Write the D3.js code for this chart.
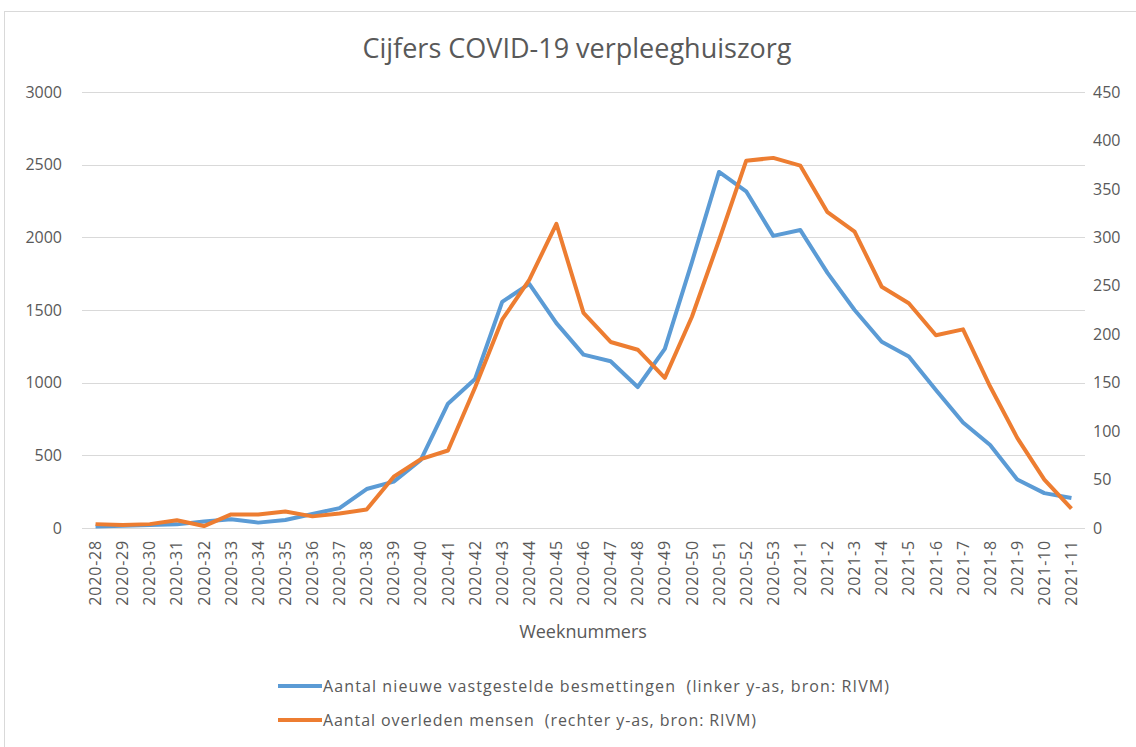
<!DOCTYPE html>
<html lang="nl">
<head>
    <meta charset="UTF-8">
    <script src="https://d3js.org/d3.v7.min.js"></script>
    <style>
        body { margin: 0; background: #fff; }
        text { font-family: "Open Sans", sans-serif; fill: #595959; }
    </style>
</head>
<body>
    <div id="chart"></div>

    <script>
        var weeks = ["2020-28", "2020-29", "2020-30", "2020-31", "2020-32", "2020-33", "2020-34", "2020-35",
            "2020-36", "2020-37", "2020-38", "2020-39", "2020-40", "2020-41", "2020-42", "2020-43", "2020-44",
            "2020-45", "2020-46", "2020-47", "2020-48", "2020-49", "2020-50", "2020-51", "2020-52", "2020-53",
            "2021-1", "2021-2", "2021-3", "2021-4", "2021-5", "2021-6", "2021-7", "2021-8", "2021-9", "2021-10", "2021-11"];

        // nieuwe vastgestelde besmettingen (linker y-as)
        var besmettingen = [10, 15, 20, 25, 45, 60, 37, 55, 96, 137, 268, 319, 468, 855, 1025, 1556, 1680,
            1410, 1193, 1147, 970, 1232, 1830, 2450, 2317, 2010, 2050, 1755, 1500, 1281, 1180, 950, 726, 571, 334, 240, 206];

        // overleden mensen (rechter y-as)
        var overleden = [4, 3, 4, 8, 2, 14, 14, 17, 12, 15, 19, 53, 71, 80, 145, 215, 256, 314, 222, 192, 184,
            155, 218, 297, 379, 382, 374, 326, 306, 249, 232, 199, 205, 146, 93, 50, 20];

        var leftTicks = [0, 500, 1000, 1500, 2000, 2500, 3000];
        var rightTicks = [0, 50, 100, 150, 200, 250, 300, 350, 400, 450];

        var W = 1136, H = 747;
        var plot = { left: 82, right: 1085, top: 92, bottom: 528 };

        var svg = d3.select("#chart").append("svg")
            .attr("width", W)
            .attr("height", H);

        // kader
        svg.append("rect")
            .attr("x", 4.5).attr("y", 11.5)
            .attr("width", W + 10).attr("height", H + 10)
            .attr("fill", "none")
            .attr("stroke", "#d9d9d9");

        var x = d3.scaleBand().domain(weeks).range([plot.left, plot.right]);
        var yL = d3.scaleLinear().domain([0, 3000]).range([plot.bottom, plot.top]);
        var yR = d3.scaleLinear().domain([0, 450]).range([plot.bottom, plot.top]);

        // rasterlijnen
        svg.append("g").selectAll("line")
            .data(leftTicks)
            .enter().append("line")
            .attr("x1", plot.left).attr("x2", plot.right)
            .attr("y1", function (d) { return Math.round(yL(d)) + 0.5; })
            .attr("y2", function (d) { return Math.round(yL(d)) + 0.5; })
            .attr("stroke", "#d9d9d9");

        var axisL = svg.append("g")
            .attr("transform", "translate(" + (plot.left - 20) + ",0)")
            .call(d3.axisLeft(yL).tickValues(leftTicks).tickFormat(d3.format("d")).tickSize(0).tickPadding(0));
        var axisR = svg.append("g")
            .attr("transform", "translate(" + (plot.right + 8) + ",0)")
            .call(d3.axisRight(yR).tickValues(rightTicks).tickFormat(d3.format("d")).tickSize(0).tickPadding(0));
        [axisL, axisR].forEach(function (a) {
            a.select(".domain").remove();
            a.selectAll("text").style("font-size", "16px").attr("fill", "#595959");
        });

        var axisX = svg.append("g")
            .attr("transform", "translate(0," + plot.bottom + ")")
            .call(d3.axisBottom(x).tickSize(0).tickPadding(0));
        axisX.select(".domain").remove();
        axisX.selectAll("text")
            .attr("transform", "rotate(-90)")
            .attr("x", -12)
            .attr("y", 0)
            .attr("dy", "0.35em")
            .style("text-anchor", "end")
            .style("font-size", "16px")
            .style("letter-spacing", "0.8px")
            .attr("fill", "#595959");

        var line = function (scale) {
            return d3.line()
                .x(function (d, i) { return x(weeks[i]) + x.bandwidth() / 2; })
                .y(function (d) { return scale(d); });
        };

        svg.append("path")
            .datum(besmettingen)
            .attr("d", line(yL))
            .attr("fill", "none")
            .attr("stroke", "#5b9bd5")
            .attr("stroke-width", 4)
            .attr("stroke-linejoin", "round");

        svg.append("path")
            .datum(overleden)
            .attr("d", line(yR))
            .attr("fill", "none")
            .attr("stroke", "#ed7d31")
            .attr("stroke-width", 4)
            .attr("stroke-linejoin", "round");

        svg.append("text")
            .attr("x", 577).attr("y", 58)
            .attr("text-anchor", "middle")
            .style("font-size", "27px")
            .text("Cijfers COVID-19 verpleeghuiszorg");

        svg.append("text")
            .attr("x", 583).attr("y", 638)
            .attr("text-anchor", "middle")
            .style("font-size", "18px")
            .text("Weeknummers");

        var legend = [
            { label: "Aantal nieuwe vastgestelde besmettingen  (linker y-as, bron: RIVM)", color: "#5b9bd5", len: 566 },
            { label: "Aantal overleden mensen  (rechter y-as, bron: RIVM)", color: "#ed7d31", len: 433 }
        ];
        var lg = svg.append("g").selectAll("g")
            .data(legend)
            .enter().append("g")
            .attr("transform", function (d, i) { return "translate(278," + (686 + i * 34) + ")"; });
        lg.append("line")
            .attr("x1", 0).attr("x2", 44)
            .attr("stroke", function (d) { return d.color; })
            .attr("stroke-width", 4);
        lg.append("text")
            .attr("x", 45).attr("dy", "0.35em")
            .style("font-size", "16px")
            .style("white-space", "pre")
            .attr("textLength", function (d) { return d.len; })
            .attr("lengthAdjust", "spacing")
            .text(function (d) { return d.label; });
    </script>
</body>
</html>
